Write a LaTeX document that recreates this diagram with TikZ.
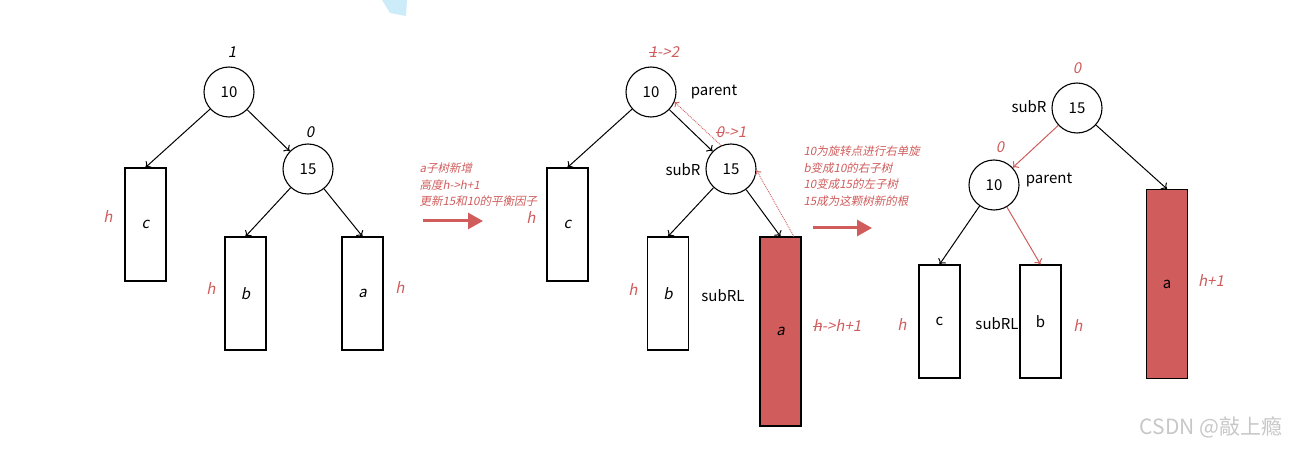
\documentclass[tikz,border=0pt]{standalone}
\usepackage{fontspec}
\setmainfont{Noto Sans CJK SC}[AutoFakeSlant=0.2]
\usetikzlibrary{arrows.meta}
\definecolor{noteRed}{RGB}{208,92,92}
\definecolor{hintBlue}{RGB}{204,236,250}
\newcommand{\boxWidth}{41pt}
\newcommand{\boxHeight}{113pt}
\newcommand{\tallHeight}{189pt}
\newcommand{\nodeSize}{50pt}
\newcommand{\mainSize}{\fontsize{15}{18}\selectfont}
\newlength{\strikeLen}
\newcommand{\strikeOut}[1]{\settowidth{\strikeLen}{#1}\rlap{#1}\rule[0.3em]{\strikeLen}{0.07em}}

\begin{document}
\begin{tikzpicture}[x=1pt,y=-1pt,
    treeNode/.style={circle,draw,line width=1.1pt,minimum size=\nodeSize,inner sep=0pt,font=\mainSize},
    subTree/.style={rectangle,draw,line width=1.1pt,minimum width=\boxWidth,minimum height=\boxHeight,inner sep=0pt,font=\mainSize},
    tallTree/.style={subTree,minimum height=\tallHeight,fill=noteRed},
    edge/.style={-{To[length=5pt,width=9pt]},line width=1pt},
    redEdge/.style={edge,draw=noteRed},
    backLink/.style={-{To[length=4pt,width=7pt]},draw=noteRed,densely dotted,line width=0.9pt},
    bigArrow/.style={-{Triangle[length=15pt,width=16pt]},draw=noteRed,fill=noteRed,line width=3pt},
    redLabel/.style={text=noteRed,font=\mainSize\itshape},
    factor/.style={font=\mainSize\itshape},
    plainLabel/.style={font=\mainSize},
    noteText/.style={text=noteRed,align=left,anchor=west,font=\fontsize{11.5}{16.5}\selectfont\itshape}]
  \useasboundingbox (0,0) rectangle (1301,449);
  \fill[hintBlue] (382,0) -- (407,0) -- (406,16) -- (390,13) -- cycle;

  % before the insertion
  \node[treeNode] (p1) at (229,92) {10};
  \node[treeNode] (s1) at (308,169) {15};
  \node[subTree] (c1) at (145.5,224.5) {\itshape c};
  \node[subTree] (b1) at (245.5,293.5) {\itshape b};
  \node[subTree] (a1) at (362.5,293.5) {\itshape a};
  \node[factor] (bfp1) at (232,52) {1};
  \node[factor] (bfs1) at (310,132) {0};
  \node[redLabel] (hc1) at (108,217) {h};
  \node[redLabel] (hb1) at (211,289) {h};
  \node[redLabel] (ha1) at (400,288) {h};
  \draw[edge] (p1) -- (c1.north);
  \draw[edge] (p1) -- (s1);
  \draw[edge] (s1) -- (b1.north);
  \draw[edge] (s1) -- (a1.north);

  \node[noteText] (note1) at (416,185) {a子树新增\\高度h->h+1\\更新15和10的平衡因子};
  \coordinate (go1a) at (423,221);
  \coordinate (go1b) at (483,221);
  \draw[bigArrow] (go1a) -- (go1b);

  % after the insertion
  \node[treeNode] (p2) at (651,92) {10};
  \node[treeNode] (s2) at (731,169) {15};
  \node[subTree] (c2) at (567.5,224.5) {\itshape c};
  \node[subTree] (b2) at (668,293.5) {\itshape b};
  \node[tallTree] (a2) at (780.5,331.5) {\itshape a};
  \node[redLabel] (bfp2) at (664,52) {\strikeOut{1}->2};
  \node[redLabel] (bfs2) at (731,132) {\strikeOut{0}->1};
  \node[plainLabel] (par2) at (714,92) {parent};
  \node[plainLabel] (sub2) at (683,170) {subR};
  \node[plainLabel] (subl2) at (723,296) {subRL};
  \node[redLabel] (hc2) at (531,218) {h};
  \node[redLabel] (hb2) at (633,290) {h};
  \node[redLabel] (ha2) at (837,326) {\strikeOut{h}->h+1};
  \draw[edge] (p2) -- (c2.north);
  \draw[edge] (p2) -- (s2);
  \draw[edge] (s2) -- (b2.north);
  \draw[edge] (s2) -- (a2.north);
  \draw[backLink] (s2.113) -- (p2.-23);
  \draw[backLink] (a2.82) -- (s2.-3);

  \node[noteText] (note2) at (800,176) {10为旋转点进行右单旋\\b变成10的右子树\\10变成15的左子树\\15成为这颗树新的根};
  \coordinate (go2a) at (813,228);
  \coordinate (go2b) at (872,228);
  \draw[bigArrow] (go2a) -- (go2b);

  % after the right rotation
  \node[treeNode] (s3) at (1077,108) {15};
  \node[treeNode] (p3) at (994,185) {10};
  \node[subTree] (c3) at (939.5,321.5) {c};
  \node[subTree] (b3) at (1040.5,321.5) {b};
  \node[tallTree] (a3) at (1167,284) {a};
  \node[redLabel] (bfs3) at (1077,68) {0};
  \node[redLabel] (bfp3) at (1000,147) {0};
  \node[plainLabel] (sub3) at (1029,107) {subR};
  \node[plainLabel] (par3) at (1049,180) {parent};
  \node[plainLabel] (subl3) at (997,324) {subRL};
  \node[redLabel] (hc3) at (902,325) {h};
  \node[redLabel] (hb3) at (1078,326) {h};
  \node[redLabel] (ha3) at (1211,281) {h+1};
  \draw[redEdge] (s3) -- (p3);
  \draw[edge] (s3) -- (a3.north);
  \draw[edge] (p3) -- (c3.north);
  \draw[redEdge] (p3) -- (b3.north);

  \node[text=black!22,font=\fontsize{21}{24}\selectfont] (mark) at (1211,427) {CSDN @敲上瘾};
\end{tikzpicture}
\end{document}
